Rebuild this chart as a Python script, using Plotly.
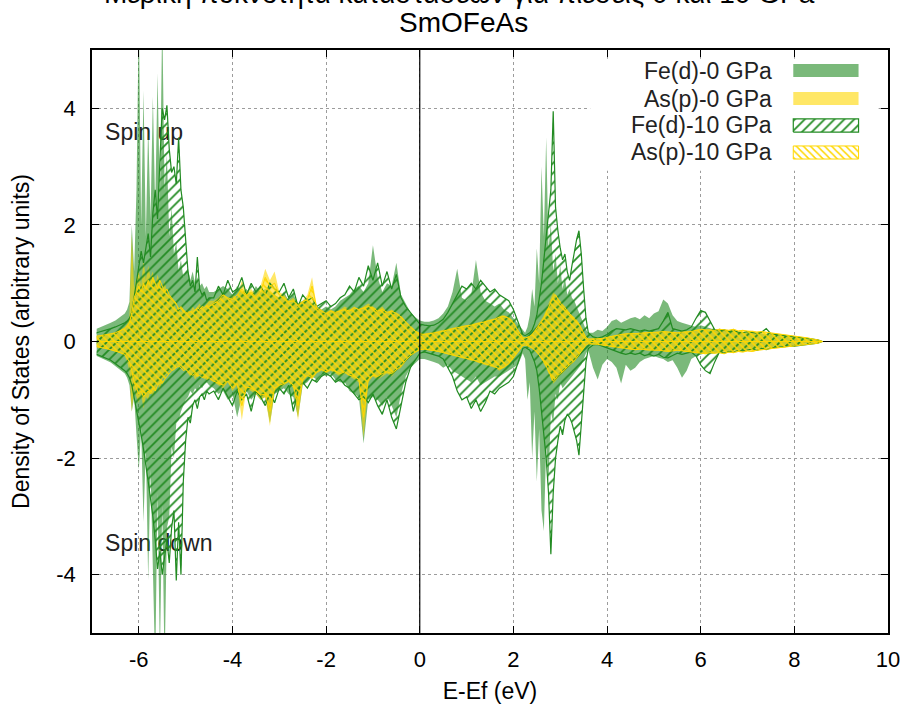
import numpy as np
import plotly.graph_objects as go

# Energy grid (eV relative to E_F); finer sampling across the two sharp Fe-d regions
energy = np.round(np.concatenate([
    np.arange(-6.9, -6.35, 0.1),     # -6.9 .. -6.4
    np.arange(-6.30, -4.475, 0.05),  # -6.30 .. -4.50
    np.arange(-4.4, 2.15, 0.1),      # -4.4 .. 2.1
    np.arange(2.20, 3.625, 0.05),    # 2.20 .. 3.60
    np.arange(3.7, 8.65, 0.1),       # 3.7 .. 8.6
]), 2)

x_ticks = [-6, -4, -2, 0, 2, 4, 6, 8, 10]
x_tick_labels = ["-6", "-4", "-2", "0", "2", "4", "6", "8", "10"]
y_ticks = [-4, -2, 0, 2, 4]
y_tick_labels = ["-4", "-2", "0", "2", "4"]

# ---- Fe(d), 0 GPa ----
fe0_up = [
    0.22, 0.25, 0.28, 0.32, 0.36, 0.42,
    0.48, 0.55, 0.68, 2.00, 1.20, 2.60, 5.60, 2.00, 4.30, 1.80,
    3.70, 2.10, 4.20, 2.30, 4.60, 2.40, 5.60, 2.60, 3.20, 1.80,
    2.30, 1.50, 1.70, 1.20, 1.40, 1.10, 1.20, 1.25, 1.05, 1.20,
    1.00, 1.10, 0.95, 1.00, 0.90, 0.95, 0.85,
    0.85, 0.90, 0.95, 0.90, 0.80, 0.95, 0.85, 0.90, 0.80, 0.95, 0.85, 0.90, 0.85, 0.80,
    0.75, 0.85, 0.70, 0.80, 0.65, 0.70, 0.75, 0.65, 0.60, 0.55,
    0.60, 0.55, 0.60, 0.70, 0.75, 0.80, 0.90, 0.95, 0.85, 1.00,
    1.65, 1.10, 0.85, 1.00, 0.95, 1.35, 0.80, 0.65, 0.50, 0.42,
    0.36, 0.34, 0.34, 0.36, 0.40, 0.48, 0.60, 0.85, 1.25, 0.75, 0.70,
    0.80, 1.40, 0.85, 0.70, 0.65, 0.60, 0.65, 0.55, 0.50, 0.40, 0.30,
    0.20, 0.15, 0.25, 0.45, 0.90, 0.60, 1.60, 1.00, 3.00, 1.80, 3.50, 1.60, 2.00, 1.20, 1.50,
    1.00, 1.30, 0.90, 1.10, 0.80, 0.90, 0.75, 0.70, 0.60, 0.50, 0.40, 0.30, 0.20, 0.15,
    0.15, 0.20, 0.18, 0.25, 0.35, 0.38, 0.32, 0.36, 0.40, 0.42,
    0.38, 0.45, 0.40, 0.48, 0.52, 0.72, 0.65, 0.45, 0.35, 0.32,
    0.30, 0.28, 0.25, 0.28, 0.25, 0.22, 0.20, 0.22, 0.20, 0.18,
    0.20, 0.16, 0.15, 0.16, 0.14, 0.13, 0.14, 0.12, 0.12, 0.10,
    0.10, 0.09, 0.08, 0.08, 0.07, 0.06, 0.05, 0.04, 0.03, 0.00,
]
fe0_dn = [
    -0.25, -0.28, -0.32, -0.36, -0.42, -0.48,
    -0.55, -0.62, -0.75, -1.20, -0.95, -1.60, -2.20, -1.50, -3.10, -1.80,
    -4.10, -2.20, -4.40, -5.60, -2.60, -5.40, -2.80, -5.60, -3.20, -3.00,
    -1.80, -2.00, -1.40, -1.35, -1.20, -1.10, -1.00, -0.95, -0.85, -0.90,
    -0.80, -0.85, -0.75, -0.80, -0.72, -0.70, -0.75,
    -0.80, -0.90, -0.85, -1.00, -0.90, -1.30, -0.95, -0.85, -1.00, -0.90, -1.00, -0.95, -1.40, -0.90,
    -0.85, -0.80, -0.90, -0.95, -1.30, -0.75, -0.70, -0.60, -0.65, -0.55,
    -0.60, -0.55, -0.65, -0.70, -0.70, -0.85, -0.90, -0.95, -1.75, -1.00,
    -0.95, -1.00, -1.10, -0.95, -1.10, -1.30, -0.90, -0.60, -0.45, -0.38,
    -0.30, -0.30, -0.32, -0.35, -0.38, -0.45, -0.40, -0.50, -0.55, -0.60, -0.65,
    -0.70, -0.60, -0.75, -0.70, -0.65, -0.60, -0.60, -0.55, -0.50, -0.45, -0.40,
    -0.20, -0.30, -1.00, -0.70, -2.00, -1.20, -2.40, -1.50, -2.90, -3.25, -1.80, -2.40, -1.20, -1.40, -0.90,
    -1.00, -0.70, -0.80, -0.75, -0.70, -0.65, -0.60, -0.55, -0.50, -0.45, -0.40, -0.30, -0.20, -0.15,
    -0.45, -0.65, -0.40, -0.30, -0.35, -0.45, -0.72, -0.40, -0.50, -0.45,
    -0.35, -0.30, -0.28, -0.25, -0.28, -0.30, -0.35, -0.32, -0.45, -0.62,
    -0.50, -0.30, -0.25, -0.22, -0.20, -0.22, -0.20, -0.18, -0.17, -0.16,
    -0.15, -0.14, -0.14, -0.13, -0.12, -0.12, -0.11, -0.10, -0.10, -0.09,
    -0.08, -0.08, -0.07, -0.07, -0.06, -0.05, -0.04, -0.03, -0.02, 0.00,
]

# ---- As(p), 0 GPa ----
as0_up = [
    0.10, 0.11, 0.12, 0.14, 0.16, 0.20,
    0.25, 0.30, 0.45, 1.85, 0.90, 1.10, 1.20, 0.95, 1.40, 1.05, 1.30, 1.10, 1.20, 0.95, 1.15, 1.00, 0.85, 1.05, 0.80,
    0.75, 0.70, 0.65, 0.55, 0.60, 0.50, 0.55, 0.50, 0.55, 0.50, 0.60, 0.55, 0.60, 0.65, 0.55, 0.60, 0.65, 0.70,
    0.70, 0.75, 0.85, 0.70, 0.80, 0.75, 1.05, 0.85, 0.90, 0.80, 0.95, 1.25, 1.05, 1.20,
    0.85, 0.80, 0.70, 0.75, 0.65, 0.70, 0.80, 1.10, 0.60, 0.55,
    0.50, 0.55, 0.50, 0.55, 0.60, 0.55, 0.60, 0.55, 0.60, 0.65,
    0.60, 0.55, 0.60, 0.50, 0.55, 0.50, 0.45, 0.35, 0.28, 0.20,
    0.15, 0.14, 0.15, 0.16, 0.18, 0.20, 0.22, 0.24, 0.26, 0.27, 0.28,
    0.30, 0.32, 0.33, 0.35, 0.37, 0.40, 0.45, 0.45, 0.42, 0.35, 0.20,
    0.08, 0.06, 0.08, 0.10, 0.14, 0.20, 0.25, 0.30, 0.38, 0.45, 0.55, 0.65, 0.75, 0.85, 0.80,
    0.75, 0.70, 0.65, 0.60, 0.55, 0.50, 0.45, 0.42, 0.38, 0.32, 0.25, 0.15, 0.08, 0.05,
    0.05, 0.05, 0.06, 0.08, 0.10, 0.12, 0.13, 0.14, 0.15, 0.14,
    0.15, 0.16, 0.15, 0.16, 0.17, 0.18, 0.17, 0.16, 0.15, 0.16,
    0.17, 0.18, 0.20, 0.22, 0.20, 0.21, 0.20, 0.22, 0.21, 0.20,
    0.22, 0.19, 0.20, 0.18, 0.19, 0.17, 0.18, 0.16, 0.15, 0.14,
    0.13, 0.12, 0.11, 0.10, 0.09, 0.08, 0.06, 0.05, 0.03, 0.00,
]
as0_dn = [
    -0.10, -0.11, -0.13, -0.15, -0.17, -0.20,
    -0.25, -0.35, -0.50, -1.20, -0.80, -0.95, -1.05, -0.90, -1.15, -0.95, -1.00, -0.85, -0.95, -0.80, -0.70, -0.85,
    -0.65, -0.60, -0.55, -0.50, -0.45, -0.50, -0.42, -0.45, -0.40, -0.45, -0.50, -0.55, -0.60, -0.55, -0.65, -0.60,
    -0.55, -0.60, -0.65, -0.60, -0.65,
    -0.70, -0.75, -0.80, -0.70, -0.85, -0.75, -1.35, -0.80, -0.85, -0.90, -1.00, -0.95, -1.45, -0.85,
    -0.80, -0.75, -0.70, -0.80, -1.35, -0.70, -0.60, -0.65, -0.55, -0.50,
    -0.55, -0.50, -0.55, -0.60, -0.55, -0.60, -0.65, -0.70, -1.65, -0.70,
    -0.60, -0.65, -0.60, -0.55, -0.60, -0.50, -0.45, -0.35, -0.25, -0.20,
    -0.15, -0.14, -0.15, -0.16, -0.18, -0.20, -0.22, -0.24, -0.26, -0.28, -0.30,
    -0.32, -0.35, -0.38, -0.40, -0.42, -0.45, -0.50, -0.45, -0.40, -0.30, -0.20,
    -0.08, -0.06, -0.08, -0.10, -0.12, -0.15, -0.20, -0.25, -0.30, -0.38, -0.45, -0.55, -0.65, -0.72, -0.68,
    -0.62, -0.58, -0.55, -0.50, -0.45, -0.42, -0.38, -0.35, -0.30, -0.25, -0.20, -0.12, -0.06, -0.04,
    -0.05, -0.06, -0.06, -0.08, -0.10, -0.11, -0.12, -0.13, -0.14, -0.15,
    -0.14, -0.15, -0.16, -0.15, -0.16, -0.17, -0.18, -0.17, -0.16, -0.17,
    -0.18, -0.19, -0.20, -0.21, -0.22, -0.20, -0.21, -0.20, -0.22, -0.19,
    -0.20, -0.18, -0.19, -0.17, -0.18, -0.16, -0.15, -0.15, -0.14, -0.13,
    -0.12, -0.11, -0.10, -0.09, -0.08, -0.07, -0.06, -0.04, -0.03, 0.00,
]

# ---- Fe(d), 10 GPa ----
fe10_up = [
    0.15, 0.17, 0.19, 0.22, 0.25, 0.28,
    0.32, 0.35, 0.40, 0.50, 0.75, 1.00, 1.25, 1.55, 1.35, 1.60, 1.85, 1.45, 2.20, 2.60, 2.10, 3.10, 4.00, 3.80, 4.05,
    3.30, 2.90, 3.00, 2.70, 3.50, 2.60, 2.30, 1.80, 1.20, 0.95, 1.05, 0.85, 1.45, 0.90, 0.80, 0.85, 0.70, 0.75,
    0.75, 0.95, 0.80, 1.05, 0.85, 0.90, 1.10, 0.80, 1.00, 0.85, 0.95, 0.80, 1.00, 0.90,
    0.85, 1.00, 0.75, 0.90, 0.60, 0.80, 0.70, 0.75, 0.60, 0.65,
    0.70, 0.60, 0.65, 0.75, 0.80, 0.95, 0.85, 1.10, 0.95, 1.30,
    1.05, 1.35, 0.95, 1.20, 0.90, 1.15, 0.75, 0.60, 0.50, 0.38,
    0.30, 0.28, 0.27, 0.28, 0.32, 0.38, 0.50, 0.65, 0.80, 0.95, 0.90,
    1.00, 0.90, 1.05, 0.95, 0.85, 0.90, 0.80, 0.75, 0.70, 0.55, 0.35,
    0.12, 0.10, 0.12, 0.15, 0.20, 0.30, 0.45, 0.70, 1.00, 1.40, 1.80, 2.30, 2.60, 3.95, 2.30,
    1.90, 1.60, 1.40, 1.50, 1.20, 1.05, 1.30, 1.55, 1.75, 1.90, 1.50, 0.90, 0.40, 0.15,
    0.08, 0.06, 0.08, 0.12, 0.18, 0.22, 0.21, 0.20, 0.22, 0.20,
    0.18, 0.20, 0.18, 0.20, 0.22, 0.35, 0.50, 0.22, 0.20, 0.18,
    0.20, 0.25, 0.40, 0.53, 0.50, 0.35, 0.20, 0.18, 0.20, 0.17,
    0.19, 0.16, 0.15, 0.17, 0.15, 0.14, 0.16, 0.22, 0.13, 0.12,
    0.12, 0.10, 0.10, 0.09, 0.08, 0.07, 0.06, 0.05, 0.03, 0.00,
]
fe10_dn = [
    -0.22, -0.25, -0.28, -0.32, -0.38, -0.44,
    -0.50, -0.55, -0.62, -0.75, -0.95, -1.15, -1.35, -1.60, -1.85, -2.10, -2.40, -2.70, -3.00, -3.40, -3.90, -3.60,
    -4.00, -3.70, -3.40, -3.80, -3.20, -2.90, -4.10, -3.10, -4.00, -2.40, -1.70, -1.30, -1.40, -1.10, -1.00, -1.15,
    -0.95, -0.90, -1.00, -0.85, -0.90,
    -0.85, -1.00, -0.80, -0.95, -1.10, -0.85, -1.00, -0.90, -1.20, -0.85, -0.95, -1.10, -0.90, -1.05,
    -0.80, -0.90, -0.75, -1.20, -0.85, -0.70, -0.80, -0.65, -0.70, -0.60,
    -0.55, -0.60, -0.70, -0.65, -0.75, -0.80, -0.90, -1.00, -0.95, -1.05,
    -0.90, -1.10, -1.25, -1.00, -1.30, -1.50, -1.10, -0.70, -0.45, -0.32,
    -0.20, -0.18, -0.20, -0.22, -0.25, -0.30, -0.45, -0.60, -0.85, -1.00, -0.95,
    -1.15, -1.00, -1.20, -1.05, -0.85, -0.90, -0.80, -0.75, -0.70, -0.60, -0.35,
    -0.12, -0.10, -0.12, -0.15, -0.25, -0.35, -0.50, -0.80, -1.20, -1.60, -2.00, -2.60, -3.65, -2.60, -2.00,
    -1.70, -1.45, -1.60, -1.35, -1.25, -1.30, -1.40, -1.55, -1.70, -1.95, -1.40, -0.80, -0.35, -0.12,
    -0.06, -0.05, -0.08, -0.12, -0.15, -0.18, -0.20, -0.22, -0.20, -0.22,
    -0.20, -0.24, -0.22, -0.25, -0.22, -0.27, -0.28, -0.24, -0.20, -0.22,
    -0.20, -0.18, -0.25, -0.40, -0.50, -0.55, -0.35, -0.18, -0.20, -0.17,
    -0.18, -0.15, -0.16, -0.14, -0.13, -0.15, -0.12, -0.14, -0.11, -0.10,
    -0.09, -0.09, -0.08, -0.08, -0.07, -0.06, -0.05, -0.04, -0.03, 0.00,
]

# ---- As(p), 10 GPa ----
as10_up = [
    0.09, 0.10, 0.11, 0.13, 0.15, 0.18,
    0.22, 0.26, 0.32, 0.50, 0.75, 0.85, 0.95, 0.85, 1.00, 0.90, 1.05, 0.95, 1.10, 1.00, 0.90, 1.05, 0.95, 0.85, 0.90,
    0.80, 0.75, 0.70, 0.65, 0.55, 0.60, 0.55, 0.50, 0.48, 0.52, 0.50, 0.55, 0.58, 0.55, 0.60, 0.58, 0.62, 0.60,
    0.65, 0.70, 0.80, 0.75, 0.72, 0.80, 0.90, 0.80, 0.85, 0.75, 0.85, 1.10, 0.95, 1.00,
    0.80, 0.75, 0.68, 0.70, 0.62, 0.68, 0.72, 0.95, 0.58, 0.52,
    0.48, 0.52, 0.50, 0.52, 0.55, 0.52, 0.58, 0.55, 0.57, 0.60,
    0.58, 0.52, 0.55, 0.50, 0.52, 0.48, 0.42, 0.33, 0.25, 0.18,
    0.13, 0.12, 0.13, 0.15, 0.16, 0.18, 0.20, 0.22, 0.24, 0.26, 0.27,
    0.28, 0.30, 0.32, 0.34, 0.36, 0.38, 0.42, 0.43, 0.40, 0.32, 0.18,
    0.07, 0.06, 0.07, 0.09, 0.12, 0.17, 0.22, 0.27, 0.34, 0.40, 0.48, 0.58, 0.68, 0.76, 0.80,
    0.72, 0.66, 0.62, 0.58, 0.52, 0.48, 0.44, 0.40, 0.35, 0.30, 0.22, 0.14, 0.07, 0.04,
    0.04, 0.05, 0.05, 0.07, 0.09, 0.11, 0.12, 0.13, 0.13, 0.14,
    0.14, 0.15, 0.15, 0.15, 0.16, 0.17, 0.16, 0.15, 0.15, 0.16,
    0.16, 0.17, 0.19, 0.21, 0.20, 0.20, 0.19, 0.21, 0.20, 0.19,
    0.21, 0.18, 0.19, 0.18, 0.18, 0.16, 0.17, 0.16, 0.14, 0.13,
    0.12, 0.11, 0.10, 0.09, 0.08, 0.07, 0.06, 0.04, 0.03, 0.00,
]
as10_dn = [
    -0.09, -0.10, -0.12, -0.14, -0.16, -0.19,
    -0.22, -0.28, -0.35, -0.50, -0.70, -0.80, -0.90, -0.85, -0.95, -0.90, -0.85, -0.90, -0.80, -0.85, -0.75, -0.70,
    -0.72, -0.65, -0.60, -0.55, -0.50, -0.48, -0.45, -0.42, -0.45, -0.50, -0.48, -0.52, -0.55, -0.58, -0.55, -0.60,
    -0.58, -0.62, -0.60, -0.65, -0.62,
    -0.68, -0.72, -0.75, -0.68, -0.80, -0.72, -1.10, -0.78, -0.80, -0.85, -0.92, -0.90, -1.20, -0.80,
    -0.75, -0.72, -0.68, -0.75, -1.10, -0.65, -0.58, -0.62, -0.52, -0.48,
    -0.52, -0.48, -0.52, -0.55, -0.52, -0.58, -0.60, -0.65, -1.30, -0.65,
    -0.58, -0.60, -0.55, -0.52, -0.55, -0.48, -0.42, -0.32, -0.24, -0.18,
    -0.14, -0.13, -0.14, -0.15, -0.17, -0.19, -0.21, -0.23, -0.25, -0.27, -0.28,
    -0.30, -0.33, -0.36, -0.38, -0.40, -0.43, -0.47, -0.44, -0.38, -0.28, -0.18,
    -0.07, -0.06, -0.07, -0.09, -0.11, -0.14, -0.18, -0.23, -0.28, -0.35, -0.42, -0.50, -0.60, -0.68, -0.64,
    -0.58, -0.55, -0.52, -0.48, -0.43, -0.40, -0.36, -0.33, -0.28, -0.23, -0.18, -0.11, -0.06, -0.04,
    -0.04, -0.05, -0.06, -0.07, -0.09, -0.10, -0.11, -0.12, -0.13, -0.14,
    -0.13, -0.14, -0.15, -0.15, -0.15, -0.16, -0.17, -0.16, -0.15, -0.16,
    -0.17, -0.18, -0.19, -0.20, -0.21, -0.19, -0.20, -0.19, -0.21, -0.18,
    -0.19, -0.17, -0.18, -0.16, -0.17, -0.15, -0.14, -0.14, -0.13, -0.12,
    -0.11, -0.10, -0.09, -0.08, -0.07, -0.06, -0.05, -0.04, -0.03, 0.00,
]

series_names = ["Fe(d)-0 GPa", "As(p)-0 GPa", "Fe(d)-10 GPa", "As(p)-10 GPa"]

for arr in (fe0_up, fe0_dn, as0_up, as0_dn, fe10_up, fe10_dn, as10_up, as10_dn):
    assert len(arr) == len(energy), (len(arr), len(energy))

FONT = "Liberation Sans, Arial, sans-serif"
FOREST = "rgb(34,139,34)"
GOLD = "rgb(255,215,0)"
FOREST_T = "rgba(34,139,34,0.6)"
GOLD_T = "rgba(255,215,0,0.6)"
HATCH_FE = dict(shape="/", fgcolor=FOREST, bgcolor="rgba(0,0,0,0)", size=7, solidity=0.25, fillmode="replace")
HATCH_AS = dict(shape="\\", fgcolor=GOLD, bgcolor="rgba(0,0,0,0)", size=5, solidity=0.3, fillmode="replace")

fig = go.Figure()

# spin-channel labels go in first so the curves are painted over them
fig.add_trace(go.Scatter(
    x=[-6.72, -6.72], y=[3.55, -3.5], mode="text",
    text=["Spin up", "Spin down"], textposition="middle right",
    textfont=dict(family=FONT, size=23, color="#222222"),
    showlegend=False, hoverinfo="skip",
))


def solid(y, color):
    return go.Scatter(x=energy, y=y, mode="lines", line=dict(width=0),
                      fill="tozeroy", fillcolor=color,
                      showlegend=False, hoverinfo="skip")


def hatched(y, color, pattern, lw):
    # closed outline: along the curve, then back along the zero baseline
    xs = np.concatenate([energy, energy[::-1]])
    ys = np.concatenate([np.asarray(y, float), np.zeros(len(energy))])
    return go.Scatter(x=xs, y=ys, mode="lines", line=dict(color=color, width=lw),
                      fill="toself", fillcolor="rgba(0,0,0,0)", fillpattern=pattern,
                      showlegend=False, hoverinfo="skip")


fig.add_trace(solid(fe0_up, FOREST_T))
fig.add_trace(solid(fe0_dn, FOREST_T))
fig.add_trace(solid(as0_up, GOLD_T))
fig.add_trace(solid(as0_dn, GOLD_T))
fig.add_trace(hatched(fe10_up, FOREST, HATCH_FE, 1.2))
fig.add_trace(hatched(fe10_dn, FOREST, HATCH_FE, 1.2))
fig.add_trace(hatched(as10_up, GOLD, HATCH_AS, 1.0))
fig.add_trace(hatched(as10_dn, GOLD, HATCH_AS, 1.0))

# ---- key (text on the left, sample box on the right), in plot-fraction units ----
key_y = [0.9648, 0.9168, 0.8705, 0.8242]
key_x0, key_x1, key_h = 0.881, 0.963, 0.0112
key_styles = [
    dict(fillcolor=FOREST_T, line=dict(width=0)),
    dict(fillcolor=GOLD_T, line=dict(width=0)),
    dict(fillcolor="rgba(0,0,0,0)", fillpattern=HATCH_FE, line=dict(color=FOREST, width=1.2)),
    dict(fillcolor="rgba(0,0,0,0)", fillpattern=HATCH_AS, line=dict(color=GOLD, width=1.0)),
]
for name, yc, style in zip(series_names, key_y, key_styles):
    fig.add_trace(go.Scatter(
        x=[key_x0, key_x1, key_x1, key_x0, key_x0],
        y=[yc - key_h, yc - key_h, yc + key_h, yc + key_h, yc - key_h],
        mode="lines", fill="toself", xaxis="x2", yaxis="y2",
        showlegend=False, hoverinfo="skip", **style,
    ))
    fig.add_annotation(x=0.857, y=yc, xref="paper", yref="paper", text=name,
                       showarrow=False, xanchor="right", yanchor="middle",
                       font=dict(family=FONT, size=23, color="#222222"))

# two-line title; the first line runs off the top of the page
fig.add_annotation(x=0.4623, y=1.0975, xref="paper", yref="paper", xanchor="center", yanchor="middle",
                   text="Μερική πυκνότητα καταστάσεων για πιέσεις 0 και 10 GPa",
                   showarrow=False, font=dict(family=FONT, size=28, color="black"))
fig.add_annotation(x=0.4664, y=1.0472, xref="paper", yref="paper", xanchor="center", yanchor="middle",
                   text="SmOFeAs", showarrow=False, font=dict(family=FONT, size=28, color="black"))

# opaque key background and the E_F marker
fig.add_shape(type="rect", x0=3.64, x1=9.8, y0=2.93, y1=4.85, xref="x", yref="y",
              fillcolor="white", line=dict(width=0), layer="between")
fig.add_shape(type="line", x0=0, x1=0, y0=0, y1=1, xref="x", yref="paper",
              line=dict(color="black", width=1.2), layer="above")

axis_common = dict(
    ticks="inside", ticklen=7, tickwidth=1, tickcolor="black",
    showline=True, linecolor="black", linewidth=1.5, mirror="ticks",
    showgrid=True, gridcolor="#9c9c9c", gridwidth=1, griddash="dot",
    tickfont=dict(family=FONT, size=22, color="black"),
    automargin=False,
)

fig.update_layout(
    width=903, height=713,
    margin=dict(l=92, r=15, t=50, b=80),
    paper_bgcolor="white", plot_bgcolor="white",
    showlegend=False,
    font=dict(family=FONT, color="black"),
    xaxis=dict(range=[-7, 10], tickvals=x_ticks, ticktext=x_tick_labels, zeroline=False,
               ticklabelstandoff=6,
               title=dict(text="E-Ef (eV)", font=dict(family=FONT, size=23), standoff=12),
               **axis_common),
    yaxis=dict(range=[-5, 5], tickvals=y_ticks, ticktext=y_tick_labels, zeroline=True,
               zerolinecolor="black", zerolinewidth=1, ticklabelstandoff=10,
               title=dict(text="Density of States (arbitrary units)", font=dict(family=FONT, size=23),
                          standoff=20),
               **axis_common),
    xaxis2=dict(overlaying="x", range=[0, 1], visible=False, fixedrange=True),
    yaxis2=dict(overlaying="y", range=[0, 1], visible=False, fixedrange=True),
)

fig.write_html("out.html")
